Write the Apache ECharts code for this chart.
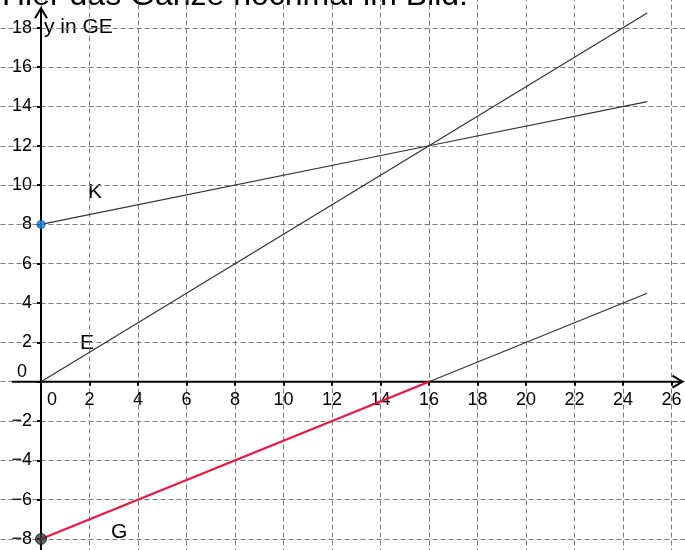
<!DOCTYPE html>
<html>
<head>
<meta charset="utf-8">
<script src="https://cdn.jsdelivr.net/npm/echarts@6/dist/echarts.min.js"></script>
<style>
    html, body { margin: 0; padding: 0; background: #fff; }
    #chart { width: 685px; height: 550px; }
</style>
</head>
<body>
<div id="chart"></div>
<script>
// Daten (Mengen in ME, Werte in GE)
const xWerte = [0, 16, 25];
const kosten = [8, 12, 14.25];   // K
const erloes = [0, 12, 18.75];   // E
const gewinn = [-8, 0, 4.5];     // G

(function () {
    // 1. Chart anlegen
    let myChart = echarts.init(document.getElementById("chart"));

    let font = "Liberation Sans, Arial, sans-serif";

    let kData = xWerte.map((x, i) => [x, kosten[i]]);
    let eData = xWerte.map((x, i) => [x, erloes[i]]);
    let gData = xWerte.map((x, i) => [x, gewinn[i]]);

    // Achsen mit Pfeilspitze (offene Spitze wie im Original)
    function renderAxis(params, api) {
        let p0 = api.coord([api.value(0), api.value(1)]);
        let p1 = api.coord([api.value(2), api.value(3)]);
        let dx = p1[0] - p0[0], dy = p1[1] - p0[1];
        let len = Math.sqrt(dx * dx + dy * dy);
        let ux = dx / len, uy = dy / len;
        let back = 10, wide = 6;
        let a = [p1[0] - ux * back - uy * wide, p1[1] - uy * back + ux * wide];
        let b = [p1[0] - ux * back + uy * wide, p1[1] - uy * back - ux * wide];
        return {
            type: "group",
            children: [
                { type: "line", shape: { x1: p0[0], y1: p0[1], x2: p1[0], y2: p1[1] },
                  style: { stroke: "#000", lineWidth: 2 } },
                { type: "polyline", shape: { points: [a, p1, b] },
                  style: { stroke: "#000", lineWidth: 2, fill: null } }
            ]
        };
    }

    function fmt(v) {
        return v === 0 ? "{z|0}" : String(v).replace("-", "\u2212");
    }

    let gridLine = { show: true, lineStyle: { color: "#7a7a7a", width: 1, type: [5, 3] } };
    let tick = { show: true, length: 4, lineStyle: { color: "#000", width: 2 } };

    let option = {
        animation: false,
        backgroundColor: "#fff",
        grid: {
            left: -7.5, right: -35, top: -11.5, bottom: -28.3,
            containLabel: false, outerBoundsMode: "none"
        },
        xAxis: {
            type: "value", min: -2, max: 28, interval: 2, position: "bottom",
            axisLine: { show: false, onZero: false },
            axisTick: tick,
            splitLine: gridLine,
            axisLabel: {
                showMinLabel: false, showMaxLabel: false,
                margin: 9, fontSize: 18, color: "#000", fontFamily: font,
                formatter: fmt,
                rich: { z: { fontSize: 18, fontFamily: font, color: "#000", padding: [0, 0, 0, 22] } }
            }
        },
        yAxis: {
            type: "value", min: -10, max: 20, interval: 2, position: "left",
            axisLine: { show: false, onZero: false },
            axisTick: tick,
            splitLine: gridLine,
            axisLabel: {
                showMinLabel: false, showMaxLabel: false,
                margin: 9, fontSize: 18, color: "#000", fontFamily: font,
                formatter: fmt,
                rich: { z: { fontSize: 18, fontFamily: font, color: "#000", padding: [0, 5, 20, 0] } }
            }
        },
        graphic: [
            { type: "text", left: 2, top: -20, silent: true,
              style: { text: "Hier das Ganze nochmal im Bild:", font: "32px " + font, fill: "#000" } },
            { type: "text", x: 44, y: 17, silent: true,
              style: { text: "y in GE", font: "21px " + font, fill: "#000" } },
            { type: "text", x: 88, y: 182, silent: true,
              style: { text: "K", font: "21px " + font, fill: "#000" } },
            { type: "text", x: 80, y: 333, silent: true,
              style: { text: "E", font: "21px " + font, fill: "#000" } },
            { type: "text", x: 111, y: 522, silent: true,
              style: { text: "G", font: "21px " + font, fill: "#000" } }
        ],
        series: [
            {
                name: "K", type: "line", data: kData, symbol: "none", silent: true,
                lineStyle: { color: "#333", width: 1.2 }, z: 3
            },
            {
                name: "E", type: "line", data: eData, symbol: "none", silent: true,
                lineStyle: { color: "#333", width: 1.2 }, z: 3
            },
            {
                // Gewinn ab Break-even (schwarz)
                name: "G+", type: "line", data: gData.slice(1), symbol: "none", silent: true,
                lineStyle: { color: "#333", width: 1.2 }, z: 3
            },
            {
                // Verlustbereich (rot)
                name: "G", type: "line", data: gData.slice(0, 2), symbol: "none", silent: true,
                lineStyle: { color: "#f0143c", width: 2.2 }, z: 4
            },
            {
                name: "Achsen", type: "custom", silent: true, z: 2,
                renderItem: renderAxis,
                encode: { x: [0, 2], y: [1, 3] },
                data: [[-1.2, 0, 26.45, 0], [0, -9, 0, 19.0]]
            },
            {
                name: "Punkte", type: "scatter", silent: true, z: 5,
                data: [
                    { value: kData[0], symbolSize: 8, itemStyle: { color: "#1e8ee6", borderColor: "#0b4f9c", borderWidth: 1 } },
                    { value: gData[0], symbolSize: 11, itemStyle: { color: "#3c3c3c", borderColor: "#111", borderWidth: 1 } }
                ]
            }
        ]
    };

    // 2. Optionen setzen
    myChart.setOption(option);

    // 3. Beschriftung an den Nullpunkt schieben (Achsen kreuzen sich im Ursprung)
    let nullPunkt = myChart.convertToPixel({ gridIndex: 0 }, [0, 0]);
    let ecke = myChart.convertToPixel({ gridIndex: 0 }, [-2, -10]);
    myChart.setOption({
        xAxis: { offset: -(ecke[1] - nullPunkt[1]) },
        yAxis: { offset: -(nullPunkt[0] - ecke[0]) }
    });

    window.addEventListener("resize", function () {
        myChart.resize();
    });
})();
</script>
</body>
</html>
